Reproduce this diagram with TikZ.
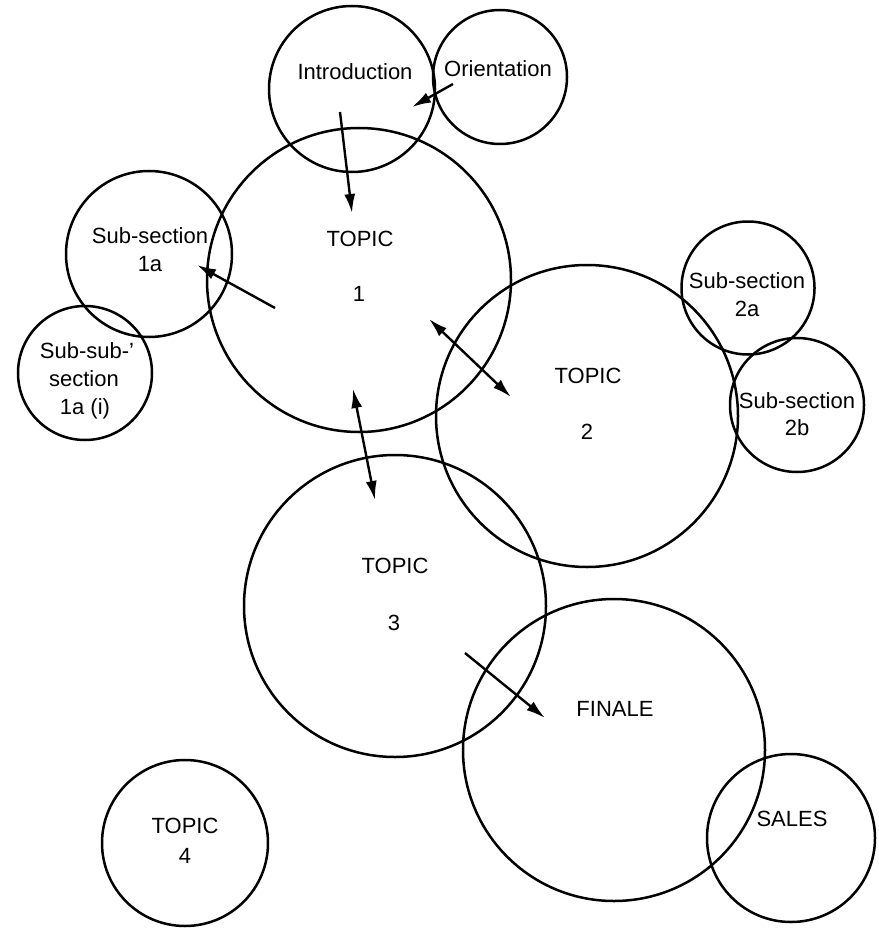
\documentclass[tikz,border=0pt]{standalone}
\usepackage{fontspec}
\setmainfont{Liberation Sans}
\usetikzlibrary{arrows.meta}
\tikzset{
  bubble/.style={draw, circle, inner sep=0pt, line width=2.5pt},
  lbl/.style={anchor=base, inner sep=0pt, font=\fontsize{22}{26}\selectfont},
  arr/.style={line width=2.4pt, -{Latex[length=19pt,width=11pt]}},
  darr/.style={line width=2.4pt, {Latex[length=19pt,width=11pt]}-{Latex[length=19pt,width=11pt]}}
}
\begin{document}
\begin{tikzpicture}[x=1pt,y=-1pt]
\useasboundingbox (0,0) rectangle (878,928);
% circles
\node[bubble, minimum size=166pt] (intro) at (352,89) {};
\node[bubble, minimum size=134pt] (orient) at (500,77) {};
\node[bubble, minimum size=304pt] (t1) at (359,280) {};
\node[bubble, minimum size=166pt] (s1a) at (149,254) {};
\node[bubble, minimum size=134pt] (s1ai) at (85,373) {};
\node[bubble, minimum size=302pt] (t2) at (587,416) {};
\node[bubble, minimum size=133pt] (s2a) at (748,288) {};
\node[bubble, minimum size=134pt] (s2b) at (797,405) {};
\node[bubble, minimum size=302pt] (t3) at (395,606) {};
\node[bubble, minimum size=302pt] (fin) at (614,750) {};
\node[bubble, minimum size=168pt] (sales) at (791,838) {};
\node[bubble, minimum size=166pt] (t4) at (185,843) {};
% labels
\node[lbl] (introL) at (355,80) {Introduction};
\node[lbl] (orientL) at (498,77) {Orientation};
\node[lbl] (s1aL1) at (150,243) {Sub-section};
\node[lbl] (s1aL2) at (150,271) {1a};
\node[lbl] (s1aiL1) at (87,358) {Sub-sub-'};
\node[lbl] (s1aiL2) at (84,386) {section};
\node[lbl] (s1aiL3) at (85,414) {1a (i)};
\node[lbl] (t1L1) at (360,246) {TOPIC};
\node[lbl] (t1L2) at (359,301) {1};
\node[lbl] (s2aL1) at (747,288) {Sub-section};
\node[lbl] (s2aL2) at (747,316) {2a};
\node[lbl] (s2bL1) at (797,408) {Sub-section};
\node[lbl] (s2bL2) at (797,435) {2b};
\node[lbl] (t2L1) at (588,383) {TOPIC};
\node[lbl] (t2L2) at (587,439) {2};
\node[lbl] (t3L1) at (395,573) {TOPIC};
\node[lbl] (t3L2) at (394,630) {3};
\node[lbl] (finL) at (615,716) {FINALE};
\node[lbl] (salesL) at (792,826) {SALES};
\node[lbl] (t4L1) at (185,833) {TOPIC};
\node[lbl] (t4L2) at (185,863) {4};
% arrow end points
\coordinate (a1s) at (453,84);
\coordinate (a1e) at (412,107);
\coordinate (a2s) at (340,112);
\coordinate (a2e) at (352,213);
\coordinate (a3s) at (275,308);
\coordinate (a3e) at (197,265);
\coordinate (a4s) at (429,319);
\coordinate (a4e) at (511,397);
\coordinate (a5s) at (353,389);
\coordinate (a5e) at (375,500);
\coordinate (a6s) at (465,653);
\coordinate (a6e) at (545,718);
% arrows
\draw[arr] (a1s) -- (a1e);
\draw[arr] (a2s) -- (a2e);
\draw[arr] (a3s) -- (a3e);
\draw[darr] (a4s) -- (a4e);
\draw[darr] (a5s) -- (a5e);
\draw[arr] (a6s) -- (a6e);
\end{tikzpicture}
\end{document}
